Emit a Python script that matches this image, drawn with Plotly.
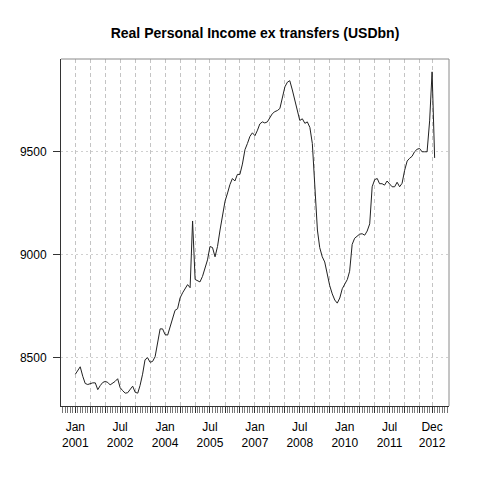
import pandas as pd
import plotly.graph_objects as go

# Monthly data, Jan 2001 .. Jan 2013
start_month = "2001-01-01"
values = [
    8420, 8440, 8456, 8410, 8375, 8370, 8375, 8378, 8378, 8345, 8365, 8380,   # 2001
    8385, 8380, 8368, 8375, 8385, 8398, 8355, 8340, 8328, 8330, 8345, 8362,   # 2002
    8332, 8328, 8365, 8420, 8490, 8500, 8478, 8482, 8505, 8580, 8640, 8640,   # 2003
    8612, 8610, 8650, 8700, 8730, 8738, 8790, 8815, 8835, 8855, 8840, 9164,   # 2004
    8880, 8872, 8868, 8895, 8935, 8975, 9040, 9035, 8990, 9040, 9120, 9190,   # 2005
    9260, 9300, 9340, 9370, 9358, 9390, 9390, 9440, 9510, 9540, 9575, 9592,   # 2006
    9578, 9605, 9635, 9645, 9640, 9645, 9665, 9685, 9695, 9700, 9710, 9760,   # 2007
    9815, 9838, 9845, 9800, 9752, 9700, 9652, 9660, 9638, 9645, 9618, 9540,   # 2008
    9300, 9120, 9035, 8990, 8965, 8900, 8850, 8810, 8780, 8765, 8790, 8835,   # 2009
    8860, 8880, 8920, 9050, 9080, 9090, 9100, 9102, 9095, 9115, 9150, 9330,   # 2010
    9365, 9370, 9345, 9345, 9338, 9358, 9345, 9330, 9330, 9352, 9330, 9347,   # 2011
    9410, 9455, 9468, 9478, 9500, 9512, 9516, 9500, 9500, 9500, 9650, 9888,   # 2012
    9470,                                                                     # 2013
]
dates = pd.date_range(start_month, periods=len(values), freq="MS")

tick_dates = list(pd.date_range("2001-01-01", "2012-07-01", freq="6MS")) + [pd.Timestamp("2012-12-01")]
label_map = {
    "2001-01": "Jan<br>2001", "2002-07": "Jul<br>2002", "2004-01": "Jan<br>2004",
    "2005-07": "Jul<br>2005", "2007-01": "Jan<br>2007", "2008-07": "Jul<br>2008",
    "2010-01": "Jan<br>2010", "2011-07": "Jul<br>2011", "2012-12": "Dec<br>2012",
}
tick_labels = [label_map.get(d.strftime("%Y-%m"), "") for d in tick_dates]
y_ticks = [8500, 9000, 9500]

span = dates[-1] - dates[0]
pad = span * 0.04
x_range = [dates[0] - pad, dates[-1] + pad]
vmin, vmax = min(values), max(values)
vr = vmax - vmin
y_range = [vmin - 0.04 * vr, vmax + 0.04 * vr]

font = "Liberation Sans, Arial, Helvetica, sans-serif"

fig = go.Figure()
fig.add_trace(go.Scatter(x=dates, y=values, mode="lines",
                         line=dict(color="#222222", width=1), hoverinfo="skip"))

# page body has an 8px default margin; size the figure to fit the 480px window
fig.update_layout(
    width=472, height=472,
    margin=dict(l=51, r=31, t=51, b=74),
    paper_bgcolor="white", plot_bgcolor="white",
    showlegend=False,
    font=dict(family=font, size=12, color="black"),
    title=dict(text="<b>Real Personal Income ex transfers (USDbn)</b>",
               x=0.5, xref="paper", xanchor="center",
               y=1 - 25 / 472, yref="container", yanchor="middle",
               font=dict(family=font, size=14, color="black")),
)
fig.update_xaxes(
    type="date", range=x_range,
    tickmode="array", tickvals=tick_dates, ticktext=tick_labels,
    ticks="outside", ticklen=6, tickcolor="#333333", tickwidth=1,
    showgrid=True, gridcolor="#c4c4c4", griddash="4px,3px", gridwidth=1,
    showline=True, linecolor="#333333", linewidth=1, mirror=False,
    zeroline=False, ticklabelstandoff=4,
    minor=dict(ticks="outside", ticklen=6, dtick="M1", tick0="2001-01-01",
               tickcolor="#777777", tickwidth=1, showgrid=False),
    tickfont=dict(size=12, color="black"),
)
fig.update_yaxes(
    range=y_range,
    tickmode="array", tickvals=y_ticks, ticktext=[str(v) for v in y_ticks],
    ticks="outside", ticklen=7, tickcolor="#333333",
    showgrid=True, gridcolor="#d0d0d0", griddash="2px,3px", gridwidth=1,
    showline=True, linecolor="#333333", linewidth=1, mirror=False,
    zeroline=False, ticklabelstandoff=4,
    tickfont=dict(size=12, color="black"),
)
fig.add_shape(type="line", xref="paper", yref="paper", x0=0, x1=1, y0=1, y1=1,
              line=dict(color="#8a8a8a", width=1))
fig.add_shape(type="line", xref="paper", yref="paper", x0=1, x1=1, y0=0, y1=1,
              line=dict(color="#8a8a8a", width=1))

fig.write_html("out.html")
